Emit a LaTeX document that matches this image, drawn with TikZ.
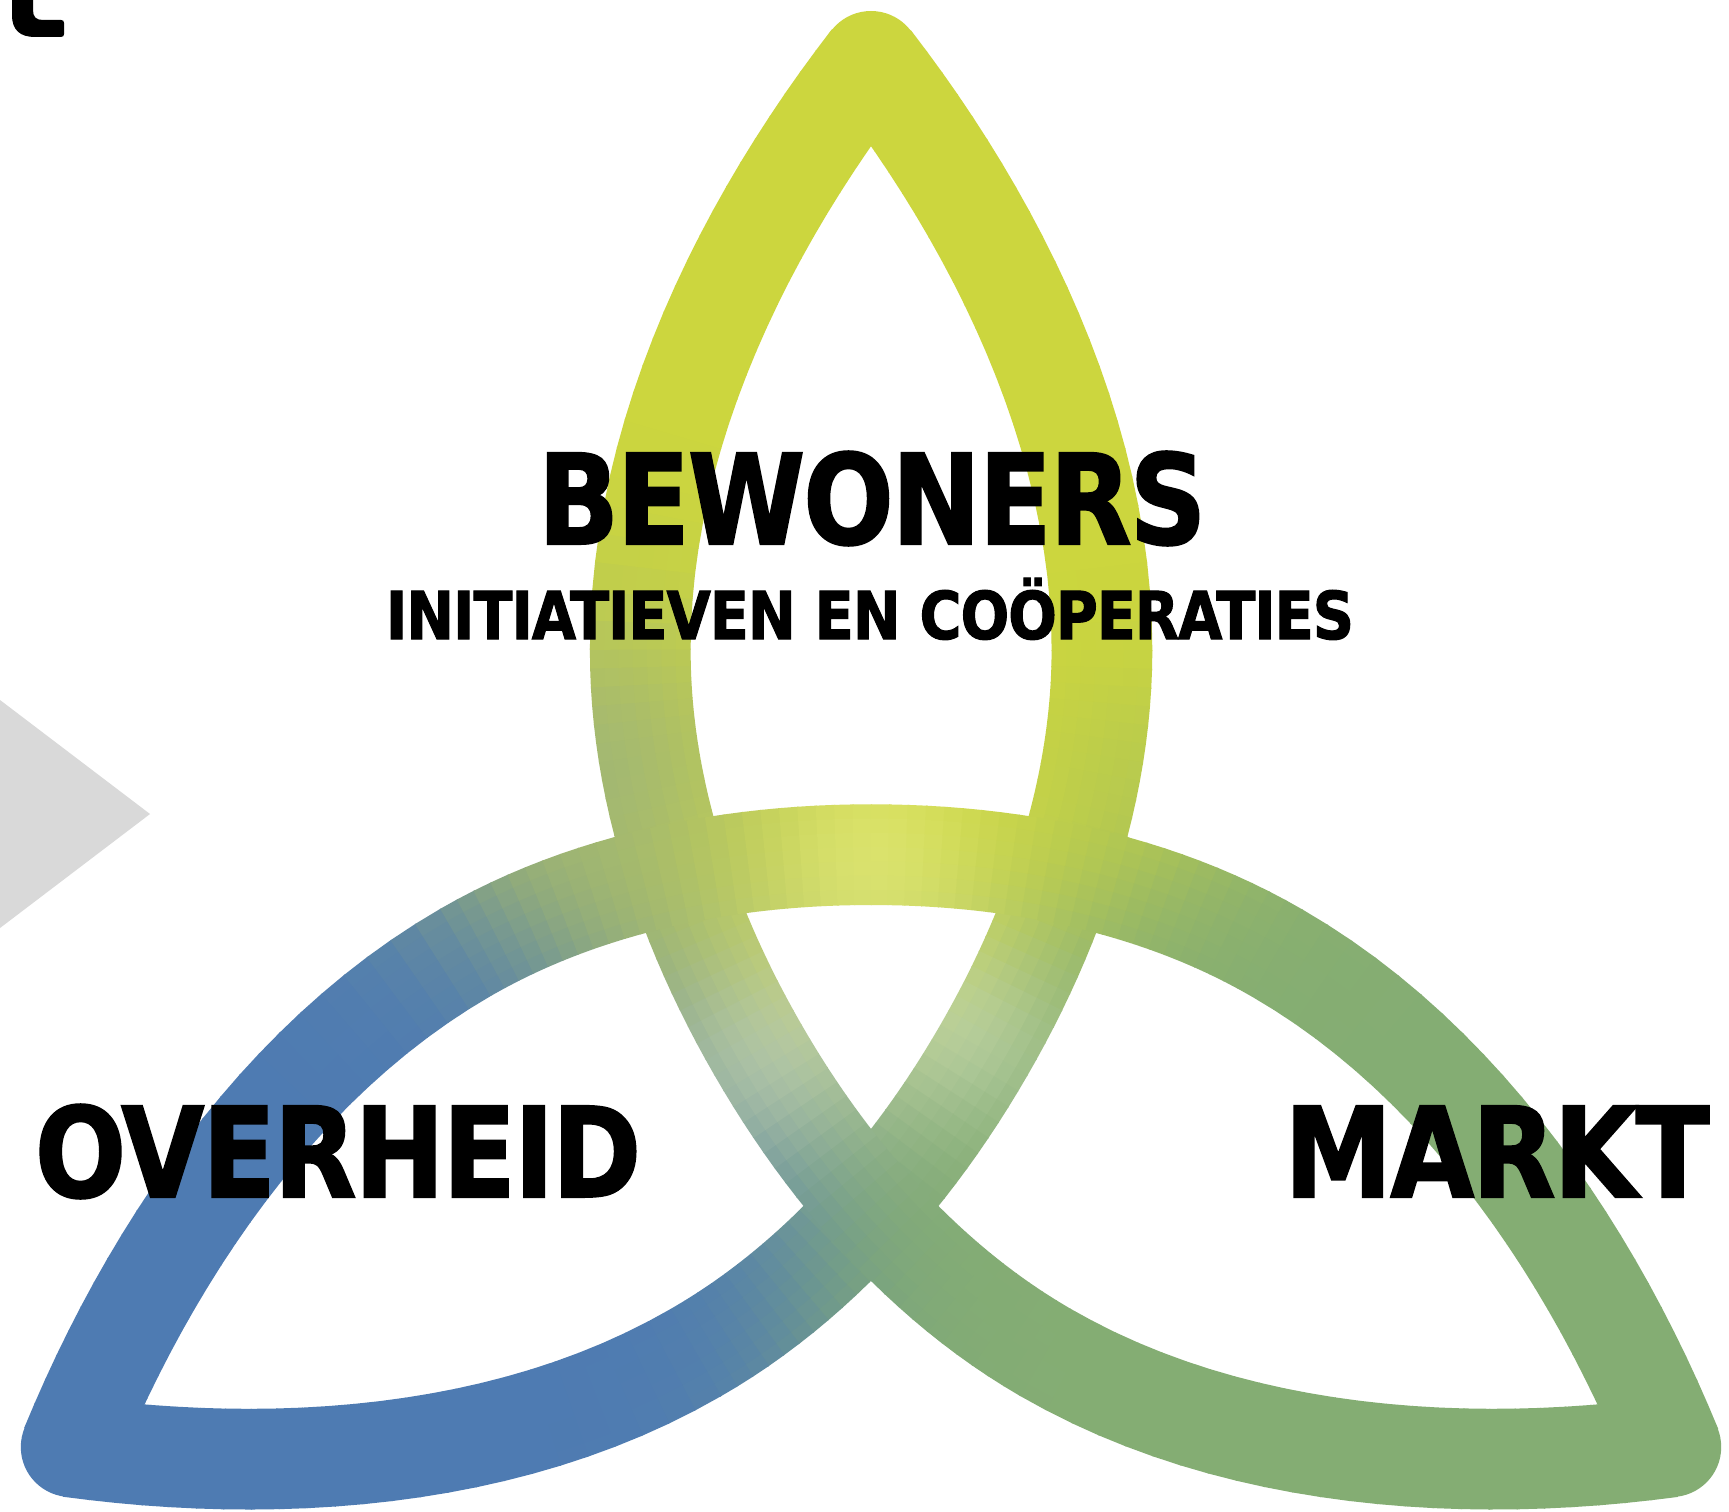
\documentclass[tikz,border=0pt]{standalone}
\usepackage{graphicx}
\usepackage{fontspec}
\setmainfont{DejaVu Sans Condensed}[BoldFont={DejaVu Sans Condensed Bold},BoldFeatures={FakeBold=1.6,LetterSpace=-1.5}]
\definecolor{tipyellow}{HTML}{CCD63E}
\definecolor{tipblue}{HTML}{4E7BB2}
\definecolor{tipgreen}{HTML}{84AD73}
\definecolor{greyarrow}{HTML}{D9D9D9}
\tikzset{
  bigword/.style={anchor=base,inner sep=0pt,font=\bfseries\fontsize{125}{125}\selectfont},
  subword/.style={anchor=base,inner sep=0pt,font=\bfseries\fontsize{66}{66}\selectfont}
}
\newcommand\tqN{24}
\newcommand\tqPt[3]{%
  \expandafter\pgfmathsetmacro\csname px#1\endcsname{(\tqcs)*(#2)-(\tqsn)*(#3)}%
  \expandafter\pgfmathsetmacro\csname py#1\endcsname{(\tqsn)*(#2)+(\tqcs)*(#3)}}
\newcommand\tqEval[1]{%
  \pgfmathsetmacro\qt{#1}\pgfmathsetmacro\qu{1-\qt}%
  \pgfmathsetmacro\qca{\qu*\qu*\qu}\pgfmathsetmacro\qcb{3*\qu*\qu*\qt}%
  \pgfmathsetmacro\qcc{3*\qu*\qt*\qt}\pgfmathsetmacro\qcd{\qt*\qt*\qt}%
  \pgfmathsetmacro\qx{871+\qca*(\pxa)+\qcb*(\pxb)+\qcc*(\pxc)+\qcd*(\pxd)}%
  \pgfmathsetmacro\qy{985+\qca*(\pya)+\qcb*(\pyb)+\qcc*(\pyc)+\qcd*(\pyd)}%
  \pgfmathsetmacro\qe{3*\qu*\qu}\pgfmathsetmacro\qf{6*\qu*\qt}\pgfmathsetmacro\qg{3*\qt*\qt}%
  \pgfmathsetmacro\qdx{\qe*((\pxb)-(\pxa))+\qf*((\pxc)-(\pxb))+\qg*((\pxd)-(\pxc))}%
  \pgfmathsetmacro\qdy{\qe*((\pyb)-(\pya))+\qf*((\pyc)-(\pyb))+\qg*((\pyd)-(\pyc))}%
  \pgfmathsetmacro\qn{veclen(\qdx,\qdy)}%
  \pgfmathsetmacro\qnx{-(\qdy)/\qn}\pgfmathsetmacro\qny{(\qdx)/\qn}}
\newcommand\tqBlob[7]{%
  \pgfmathsetmacro\tqw{(#4)*exp(-min(12,((\fx-#1)*(\fx-#1)+(\fy-#2)*(\fy-#2))/(#3)))}%
  \pgfmathsetmacro\tqr{\tqr+\tqw*(#5-\tqr)}%
  \pgfmathsetmacro\tqg{\tqg+\tqw*(#6-\tqg)}%
  \pgfmathsetmacro\tqb{\tqb+\tqw*(#7-\tqb)}}
\newcommand\tqColour[2]{%
  \pgfmathsetmacro\fx{(#1)/100}\pgfmathsetmacro\fy{(#2)/100}%
  \pgfmathsetmacro\vx{\fx-8.71}\pgfmathsetmacro\vy{\fy-9.85}%
  \pgfmathsetmacro\wT{exp(1.2*(-(\vy)+0.6-3))}%
  \pgfmathsetmacro\wL{exp(1.2*(-.866*(\vx)+.5*(\vy)-1.08-3))}%
  \pgfmathsetmacro\wR{exp(1.2*(.866*(\vx)+.5*(\vy)-3))}%
  \pgfmathsetmacro\wS{\wT+\wL+\wR}%
  \pgfmathsetmacro\tqr{(\wT*.8+\wL*.306+\wR*.518)/\wS}%
  \pgfmathsetmacro\tqg{(\wT*.839+\wL*.482+\wR*.678)/\wS}%
  \pgfmathsetmacro\tqb{(\wT*.243+\wL*.698+\wR*.451)/\wS}%
  \tqBlob{8.69}{8.58}{1.3}{.36}{1}{1}{.69}%
  \tqBlob{6.60}{9.60}{1.5}{.30}{.62}{.72}{.45}%
  \tqBlob{7.30}{10.80}{1.0}{.35}{.62}{.72}{.45}%
  \tqBlob{7.74}{10.52}{1.3}{.30}{1}{1}{1}%
  \tqBlob{9.65}{10.32}{1.0}{.30}{1}{1}{1}%
  \tqBlob{5.90}{7.60}{2.6}{.50}{.5}{.62}{.63}%
  \tqBlob{11.30}{7.60}{1.0}{.25}{.61}{.73}{.40}%
  \pgfmathsetmacro\tqr{min(1,max(0,\tqr))}%
  \pgfmathsetmacro\tqg{min(1,max(0,\tqg))}%
  \pgfmathsetmacro\tqb{min(1,max(0,\tqb))}%
  \definecolor{tqc}{rgb}{\tqr,\tqg,\tqb}}
\newcommand\tqPiece[8]{%
  \tqPt{a}{#1}{#2}\tqPt{b}{#3}{#4}\tqPt{c}{#5}{#6}\tqPt{d}{#7}{#8}%
  \foreach \i in {1,...,\tqN}{%
    \pgfmathsetmacro\tqA{(\i-1)/\tqN}\tqEval{\tqA}%
    \let\xa\qx\let\ya\qy\let\nxa\qnx\let\nya\qny
    \pgfmathsetmacro\tqB{\i/\tqN}\tqEval{\tqB}%
    % the far end is pushed 1.2 on along the band so that neighbouring cells overlap
    \pgfmathsetmacro\xb{\qx+1.2*(\qny)}\pgfmathsetmacro\yb{\qy-1.2*(\qnx)}%
    \let\nxb\qnx\let\nyb\qny
    \foreach \o in {-42.86,-28.57,-14.29,0,14.29,28.57,42.86}{%
      \pgfmathsetmacro\ol{\o-7.5}\pgfmathsetmacro\oh{\o+7.5}%
      \pgfmathsetmacro\sxl{\xa+\ol*(\nxa)}\pgfmathsetmacro\syl{\ya+\ol*(\nya)}%
      \pgfmathsetmacro\sxh{\xa+\oh*(\nxa)}\pgfmathsetmacro\syh{\ya+\oh*(\nya)}%
      \pgfmathsetmacro\exl{\xb+\ol*(\nxb)}\pgfmathsetmacro\eyl{\yb+\ol*(\nyb)}%
      \pgfmathsetmacro\exh{\xb+\oh*(\nxb)}\pgfmathsetmacro\eyh{\yb+\oh*(\nyb)}%
      \tqColour{(\sxl+\sxh+\exl+\exh)/4}{(\syl+\syh+\eyl+\eyh)/4}%
      \fill[tqc] (\sxl,\syl) -- (\sxh,\syh) -- (\exh,\eyh) -- (\exl,\eyl) -- cycle;
    }%
  }}
\begin{document}
\begin{tikzpicture}[x=1pt,y=-1pt]
  \useasboundingbox (0,0) rectangle (1729,1512);
  \fill[white] (0,0) rectangle (1729,1512);
  % grey arrow and black fragment at the left edge
  \fill[greyarrow] (0,700) -- (150,814) -- (0,928) -- cycle;
  \fill[black] (12,0) -- (12,15) .. controls (12,30) and (20,37) .. (35,37) -- (61,37)
     .. controls (63,37) and (64,36) .. (64,34) -- (64,23)
     .. controls (64,21) and (63,20) .. (61,20) -- (43,20)
     .. controls (36,20) and (33,17) .. (33,10) -- (33,0) -- cycle;
  % rounded tips
  \fill[tipyellow] (871,61) circle[radius=50pt];
  \fill[tipblue] (70.8,1447) circle[radius=50pt];
  \fill[tipgreen] (1671.2,1447) circle[radius=50pt];
  % the interlaced band, painted in small cells so its colour can vary over the plane
  \foreach \tqrot in {0,120,240}{%
    \pgfmathsetmacro\tqcs{cos(\tqrot)}\pgfmathsetmacro\tqsn{sin(\tqrot)}%
    \tqPiece{0}{-924}{122}{-766}{231}{-555}{231}{-335}%
    \tqPiece{231}{-335}{231}{-195}{183}{-56}{113}{65}%
    \tqPiece{113}{65}{43}{186.5}{-53.3}{297.6}{-175}{367.5}%
    \tqPiece{-175}{367.5}{-365}{477.6}{-602.3}{488.7}{-800.2}{462}%
  }
  % labels
  \node[bigword] (bewoners) at (872,544) {\resizebox{668pt}{\height}{BEWONERS}};
  \node[subword] (initiatieven) at (870,639) {\resizebox{968pt}{\height}{INITIATIEVEN EN COÖPERATIES}};
  \node[bigword] (overheid) at (338,1197) {\resizebox{606pt}{\height}{OVERHEID}};
  \node[bigword] (markt) at (1497,1197) {\resizebox{425pt}{\height}{MARKT}};
\end{tikzpicture}
\end{document}
